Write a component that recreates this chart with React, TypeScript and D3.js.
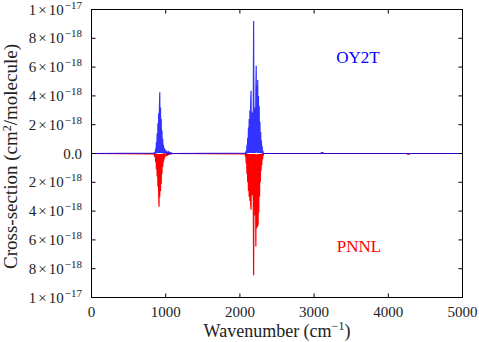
import React from "react";
import * as d3 from "d3";

// Wavenumber grids (cm^-1) of the two absorption bands
const band1Wavenumbers = [
  840, 845, 850, 855, 860, 865, 870, 875, 880, 885, 890, 895, 900, 905, 910, 915, 920,
  925, 930, 935, 940, 945, 950, 955, 960, 965, 970, 975, 980, 985, 990, 995, 1000,
  1005, 1010, 1015, 1020, 1025, 1030, 1035, 1040, 1045, 1050, 1055, 1060, 1065, 1070,
  1075, 1080, 1085, 1090,
];
const band2Wavenumbers = [
  2070, 2075, 2080, 2085, 2090, 2095, 2100, 2105, 2110, 2115, 2120, 2125, 2130, 2135,
  2140, 2145, 2150, 2155, 2160, 2165, 2170, 2175, 2180, 2185, 2190, 2195, 2200, 2205,
  2210, 2215, 2220, 2225, 2230, 2235, 2240, 2245, 2250, 2255, 2260, 2265, 2270, 2275,
  2280, 2285, 2290, 2295, 2300, 2305, 2310, 2315, 2320,
];

// Cross-sections in units of 1e-18 cm^2/molecule
const oy2tBand1 = [
  0.02, 0.05, 0.01, 0.12, 0.01, 0.35, 0.02, 0.8, 0.02, 1.4, 0.03, 2.1, 0.03, 2.8, 0.04, 3.1, 4.25,
  0.04, 3.2, 0.03, 2.4, 0.03, 1.6, 0.02, 1.0, 0.02, 0.6, 0.01, 0.4, 0.01, 0.3, 0.01, 0.22,
  0.01, 0.15, 0.01, 0.12, 0.01, 0.1, 0.01, 0.08, 0.01, 0.06, 0.01, 0.05, 0.01, 0.04,
  0.01, 0.03, 0.01, 0,
];
const oy2tBand2 = [
  0.02, 0.05, 0.01, 0.2, 0.01, 0.6, 0.02, 1.1, 0.02, 1.8, 0.03, 2.4, 0.03, 3.0,
  0.04, 3.6, 4.35, 0.04, 2.9, 0.04, 2.8, 0.04, 2.6, 9.2, 0.04, 2.2, 0.04, 3.2,
  0.04, 4.4, 6.1, 0.05, 4.7, 0.05, 5.1, 0.04, 4.0, 0.04, 3.3, 0.03, 2.2, 0.03,
  1.5, 0.02, 0.9, 0.02, 0.5, 0.01, 0.2, 0.01, 0,
];
const pnnlBand1 = [
  0.03, 0.1, 0.01, 0.25, 0.01, 0.6, 0.02, 1.1, 0.02, 1.6, 0.03, 2.3, 0.03, 2.7, 3.7, 0.04, 3.0,
  0.04, 2.6, 0.03, 2.1, 0.03, 1.4, 0.02, 0.9, 0.02, 0.6, 0.01, 0.4, 0.01, 0.25, 0.01, 0.15,
  0.01, 0.1, 0.01, 0.08, 0.01, 0.06, 0.01, 0.05, 0.01, 0.04, 0.01, 0.03, 0.01, 0.02,
  0, 0.02, 0, 0,
];
const pnnlBand2 = [
  0.03, 0.2, 0.01, 0.7, 0.02, 1.4, 0.02, 2.0, 0.03, 2.6, 0.03, 3.0, 0.04, 3.3,
  0.04, 3.5, 3.9, 0.04, 2.9, 0.04, 2.9, 0.04, 3.0, 8.45, 0.04, 3.2, 0.04, 4.3,
  0.05, 6.45, 0.05, 5.2, 0.05, 5.1, 0.05, 5.0, 0.04, 4.1, 0.04, 3.0, 0.03, 2.0,
  0.03, 1.2, 0.02, 0.8, 0.02, 0.4, 0.01, 0.15, 0,
];
// weak features elsewhere
const oy2tWeakWavenumbers = [3090, 3100, 3110, 3120, 3130];
const oy2tWeakValues = [0, 0.06, 0.03, 0.07, 0];
const pnnlWeakWavenumbers = [4250, 4260, 4270, 4280, 4290];
const pnnlWeakValues = [0, 0.05, 0.02, 0.06, 0];

const xTicks = [0, 1000, 2000, 3000, 4000, 5000];
const yTickMantissas = [1, 8, 6, 4, 2, 0, 2, 4, 6, 8, 1];
const yTickExponents = [-17, -18, -18, -18, -18, 0, -18, -18, -18, -18, -17];
const yTickValues = [1e-17, 8e-18, 6e-18, 4e-18, 2e-18, 0, -2e-18, -4e-18, -6e-18, -8e-18, -1e-17];

const UNIT = 1e-18;

function buildSeries(
  b1: number[], b2: number[], weakW: number[], weakV: number[], sign: number
): [number, number][] {
  const pts: [number, number][] = [[0, 0]];
  band1Wavenumbers.forEach((w, i) => pts.push([w, sign * b1[i] * UNIT]));
  band2Wavenumbers.forEach((w, i) => pts.push([w, sign * b2[i] * UNIT]));
  weakW.forEach((w, i) => pts.push([w, sign * weakV[i] * UNIT]));
  pts.push([5000, 0]);
  pts.sort((a, b) => a[0] - b[0]);
  return pts;
}

const FONT = "'Liberation Serif', 'DejaVu Serif', 'Noto Serif', 'Times New Roman', Times, serif";
const TXT = "#222";

export default function App() {
  const W = 479, H = 342;
  const left = 91.5, right = 462.5, top = 9.5, bottom = 297.5;
  const x = d3.scaleLinear().domain([0, 5000]).range([left, right]);
  const y = d3.scaleLinear().domain([-1e-17, 1e-17]).range([bottom, top]);

  const oy2t = buildSeries(oy2tBand1, oy2tBand2, oy2tWeakWavenumbers, oy2tWeakValues, 1);
  const pnnl = buildSeries(pnnlBand1, pnnlBand2, pnnlWeakWavenumbers, pnnlWeakValues, -1);
  const line = d3.line<[number, number]>().x((d) => x(d[0])).y((d) => y(d[1]));

  const tickLen = 4;
  const ts = { fontFamily: FONT } as React.CSSProperties;

  return (
    <svg width={W} height={H} style={{ position: "absolute", left: 0, top: 0, background: "#fff", fontFamily: FONT }}>
      {/* spectra */}
      <path d={line(pnnl) || ""} fill="none" stroke="#ff0000" strokeWidth={1.2} />
      <path d={line(oy2t) || ""} fill="none" stroke="#0000ff" strokeWidth={1.2} strokeOpacity={0.8} />

      {/* frame */}
      <rect x={left} y={top} width={right - left} height={bottom - top} fill="none" stroke="#000" strokeWidth={1} />

      {/* x ticks */}
      {xTicks.map((t) => (
        <g key={"x" + t}>
          <line x1={x(t)} x2={x(t)} y1={bottom} y2={bottom - tickLen} stroke="#000" />
          <line x1={x(t)} x2={x(t)} y1={top} y2={top + tickLen} stroke="#000" />
          <text style={ts} x={x(t)} y={317} fontSize={15} textAnchor="middle" fill={TXT}>{t}</text>
        </g>
      ))}

      {/* y ticks */}
      {yTickValues.map((v, i) => (
        <g key={"y" + i}>
          <line x1={left} x2={left + tickLen} y1={y(v)} y2={y(v)} stroke="#000" />
          <line x1={right} x2={right - tickLen} y1={y(v)} y2={y(v)} stroke="#000" />
          {v === 0 ? (
            <text style={ts} x={82} y={y(v) + 5} fontSize={15} textAnchor="end" fill={TXT}>0.0</text>
          ) : (
            <text style={ts} x={82} y={y(v) + 5} fontSize={15} textAnchor="end" fill={TXT}>
              <tspan>{yTickMantissas[i]}</tspan>
              <tspan dx={2}>×</tspan>
              <tspan dx={2}>10</tspan>
              <tspan dy={-6} fontSize={11} dx={1}>{"\u2212" + String(-yTickExponents[i])}</tspan>
            </text>
          )}
        </g>
      ))}

      {/* axis labels */}
      <text style={ts} x={(left + right) / 2} y={337} fontSize={18} textAnchor="middle" fill={TXT}>
        Wavenumber (cm<tspan dy={-7} fontSize={12}>{"\u22121"}</tspan><tspan dy={7}>)</tspan>
      </text>
      <text style={ts} transform={`translate(17, ${(top + bottom) / 2 + 3}) rotate(-90)`} fontSize={19}
        textAnchor="middle" fill={TXT}>
        Cross-section (cm<tspan dy={-6} fontSize={12}>2</tspan><tspan dy={6}>/molecule)</tspan>
      </text>

      {/* series labels */}
      <text style={ts} x={358} y={63} fontSize={17} textAnchor="middle" fill="#0000ff">OY2T</text>
      <text style={ts} x={359} y={252} fontSize={17} textAnchor="middle" fill="#ff0000">PNNL</text>
    </svg>
  );
}
